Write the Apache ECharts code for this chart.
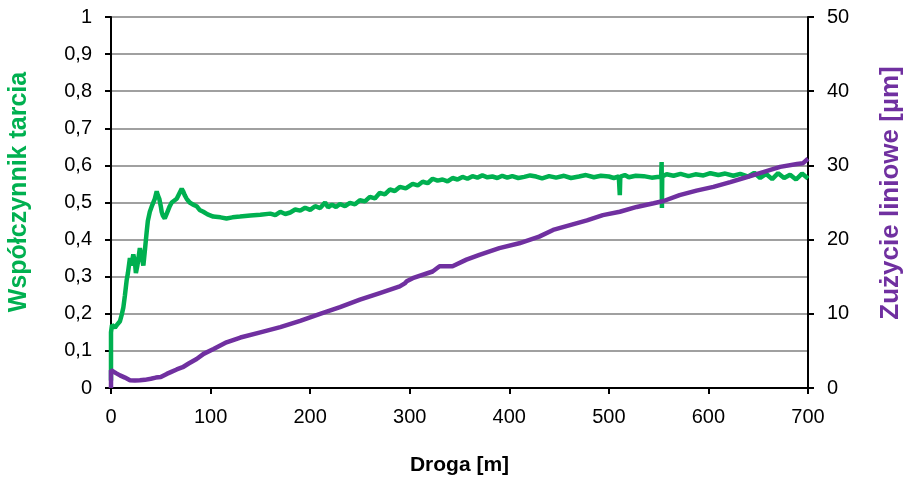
<!DOCTYPE html>
<html>
<head>
<meta charset="utf-8">
<script src="https://cdn.jsdelivr.net/npm/echarts@6/dist/echarts.min.js"></script>
<style>
  html, body { margin: 0; padding: 0; background: #fff; }
  #chart { width: 908px; height: 481px; }
</style>
</head>
<body>
<div id="chart"></div>
<script>
// droga [m] i współczynnik tarcia
var frictionX = [0, 0, 1, 2, 4, 6, 9, 11, 12.4, 14, 15.7, 17, 19, 20.5, 22.4, 24, 25, 26.5, 29, 31, 32.5, 34, 35.8, 37, 39, 41, 42.5, 44, 45.9, 47, 48.5, 50, 50.9, 52, 54, 56, 57.5, 59, 61, 63, 66, 68, 71, 72.5, 74, 76, 79, 82, 86, 89, 92.7, 97, 102.7, 110, 116, 122, 129.5, 140, 150, 160, 165, 170, 175, 180, 185, 190, 195, 200, 205, 210, 215, 218, 222, 226, 230, 235, 240, 245, 250, 255, 260, 265, 270, 275, 280, 285, 290, 296, 303, 308, 313, 318, 323, 328, 333, 338, 343, 348, 353, 358, 363, 368, 373, 378, 383, 388, 393, 398, 403, 409, 415, 421, 427, 433, 440, 447, 455, 462, 470, 477, 485, 492, 500, 505, 510, 511, 511.5, 516, 520, 527, 535, 543, 552.5, 553, 553.3, 553.6, 558, 565, 572, 580, 587, 595, 602, 610, 617, 625, 632, 640, 646, 652, 658, 664, 670, 676, 682, 688, 694, 700];
var frictionY = [0.02, 0.15, 0.17, 0.165, 0.163, 0.17, 0.18, 0.2, 0.217, 0.25, 0.29, 0.31, 0.35, 0.33, 0.36, 0.34, 0.31, 0.33, 0.377, 0.35, 0.33, 0.37, 0.42, 0.45, 0.475, 0.49, 0.49, 0.51, 0.53, 0.52, 0.51, 0.49, 0.475, 0.465, 0.457, 0.47, 0.48, 0.49, 0.5, 0.505, 0.51, 0.515, 0.537, 0.53, 0.52, 0.51, 0.5, 0.495, 0.49, 0.48, 0.475, 0.468, 0.462, 0.46, 0.457, 0.46, 0.462, 0.465, 0.467, 0.47, 0.466, 0.475, 0.469, 0.473, 0.481, 0.478, 0.486, 0.48, 0.49, 0.485, 0.5, 0.487, 0.494, 0.488, 0.496, 0.49, 0.499, 0.495, 0.506, 0.503, 0.515, 0.511, 0.526, 0.522, 0.535, 0.531, 0.542, 0.538, 0.55, 0.546, 0.556, 0.552, 0.564, 0.559, 0.562, 0.557, 0.566, 0.562, 0.569, 0.564, 0.571, 0.567, 0.573, 0.568, 0.57, 0.566, 0.572, 0.567, 0.571, 0.566, 0.569, 0.573, 0.57, 0.565, 0.571, 0.567, 0.572, 0.566, 0.57, 0.574, 0.568, 0.572, 0.57, 0.566, 0.57, 0.52, 0.57, 0.574, 0.568, 0.572, 0.571, 0.567, 0.57, 0.609, 0.485, 0.57, 0.576, 0.572, 0.577, 0.571, 0.576, 0.573, 0.579, 0.574, 0.578, 0.572, 0.577, 0.57, 0.58, 0.566, 0.577, 0.563, 0.579, 0.566, 0.575, 0.562, 0.578, 0.565, 0.575];

// zużycie liniowe [µm]
var wearX = [0, 0, 2, 5, 9, 14, 19, 24, 29, 34, 40, 45, 50, 56, 60, 66, 72, 78, 86, 93, 103, 116, 130, 150, 170, 190, 210, 230, 250, 270, 290, 295, 297, 303, 323, 330, 343, 357, 370, 390, 410, 430, 444, 461, 478, 494, 511, 528, 545, 555, 571, 588, 605, 622, 638, 655, 672, 689, 695, 700];
var wearY = [0, 2.4, 2.3, 2.0, 1.7, 1.4, 1.05, 1.0, 1.03, 1.1, 1.25, 1.4, 1.47, 1.9, 2.14, 2.5, 2.8, 3.3, 3.9, 4.6, 5.25, 6.15, 6.8, 7.5, 8.2, 9.05, 10.0, 10.9, 11.9, 12.8, 13.7, 14.1, 14.4, 14.8, 15.7, 16.4, 16.4, 17.3, 17.95, 18.85, 19.5, 20.4, 21.3, 21.96, 22.6, 23.3, 23.75, 24.4, 24.9, 25.2, 26, 26.6, 27.1, 27.75, 28.4, 29.1, 29.8, 30.2, 30.3, 30.9];

function pairs(xs, ys) {
  return xs.map(function (x, i) { return [x, ys[i]]; });
}

var font = 'Liberation Sans, Arial, sans-serif';
var axisLine = { show: true, lineStyle: { color: '#000', width: 2 } };
var axisTick = { show: true, inside: false, length: 6, lineStyle: { color: '#000', width: 2 } };

var chart = echarts.init(document.getElementById('chart'), null, { renderer: 'canvas' });
chart.setOption({
  animation: false,
  backgroundColor: '#fff',
  grid: { left: 111, right: 100, top: 17, bottom: 90, containLabel: false },
  // tytuły osi pionowych
  graphic: [{
    type: 'text', x: 19, y: 192, rotation: Math.PI / 2,
    style: {
      text: 'Współczynnik tarcia', fill: '#00B050', font: 'bold 25px ' + font,
      align: 'center', verticalAlign: 'middle'
    }
  }, {
    type: 'text', x: 891, y: 193, rotation: Math.PI / 2,
    style: {
      text: 'Zużycie liniowe [µm]', fill: '#7030A0', font: 'bold 26px ' + font,
      align: 'center', verticalAlign: 'middle'
    }
  }],
  xAxis: {
    type: 'value', min: 0, max: 700, interval: 100,
    name: 'Droga [m]', nameLocation: 'middle', nameGap: 67,
    nameTextStyle: { fontFamily: font, fontSize: 21, fontWeight: 'bold', color: '#000' },
    axisLine: axisLine, axisTick: axisTick, splitLine: { show: false },
    axisLabel: { fontFamily: font, fontSize: 20, color: '#000', margin: 19 }
  },
  yAxis: [{
    type: 'value', min: 0, max: 1, interval: 0.1, position: 'left',
    axisLine: axisLine, axisTick: axisTick,
    splitLine: { show: true, lineStyle: { color: '#A0A0A0', width: 2 } },
    axisLabel: {
      fontFamily: font, fontSize: 20, color: '#000', margin: 19,
      formatter: function (v) { return String(Math.round(v * 10) / 10).replace('.', ','); }
    }
  }, {
    type: 'value', min: 0, max: 50, interval: 10, position: 'right',
    axisLine: axisLine, axisTick: axisTick, splitLine: { show: false },
    axisLabel: { fontFamily: font, fontSize: 20, color: '#000', margin: 19 }
  }],
  series: [{
    name: 'Współczynnik tarcia', type: 'line', yAxisIndex: 0,
    data: pairs(frictionX, frictionY), showSymbol: false, smooth: false,
    lineStyle: { color: '#00B050', width: 4.5 }, z: 3
  }, {
    name: 'Zużycie liniowe', type: 'line', yAxisIndex: 1,
    data: pairs(wearX, wearY), showSymbol: false, smooth: false,
    lineStyle: { color: '#7030A0', width: 4.5 }, z: 4
  }]
});
</script>
</body>
</html>
